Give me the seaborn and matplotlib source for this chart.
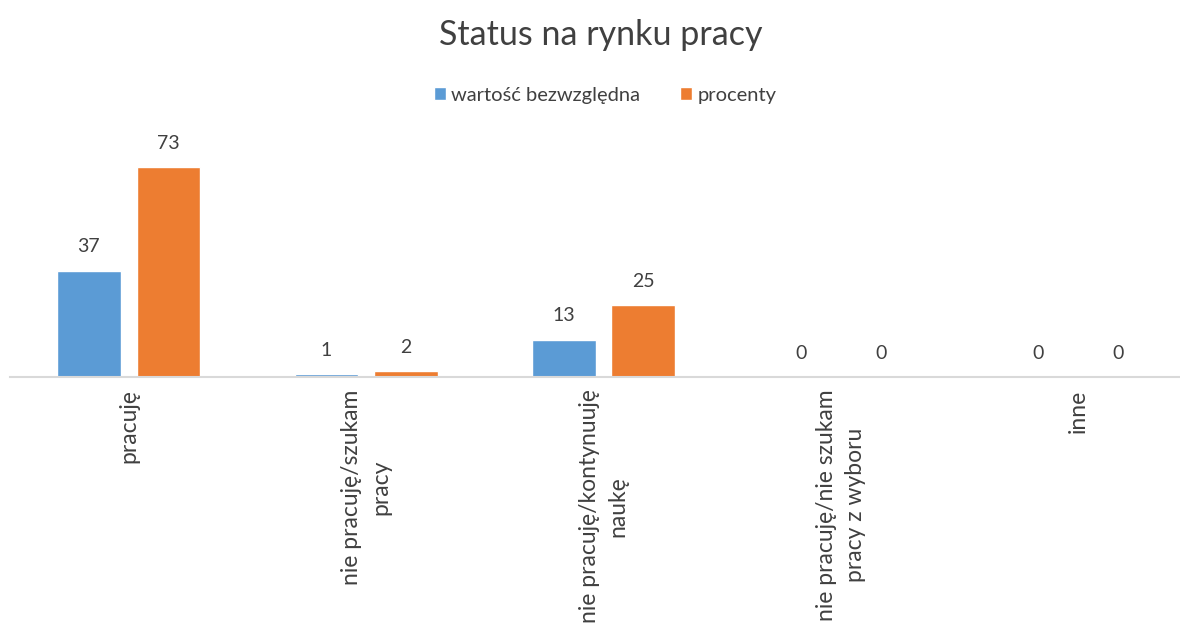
import pandas as pd
import matplotlib.pyplot as plt
import seaborn as sns

# values
categories = ["pracuję", "nie pracuję/szukam\npracy", "nie pracuję/kontynuuję\nnaukę",
              "nie pracuję/nie szukam\npracy z wyboru", "inne"]
absolute = [37, 1, 13, 0, 0]
percent = [73, 2, 25, 0, 0]
series = ["wartość bezwzględna", "procenty"]
colors = ["#5B9BD5", "#ED7D31"]

df = pd.DataFrame({
    "status": categories * 2,
    "value": absolute + percent,
    "series": [series[0]] * len(categories) + [series[1]] * len(categories),
})

sns.set_theme(style="white")
plt.rcParams["font.family"] = ["Lato", "DejaVu Sans"]
text_col = "#404040"

fig = plt.figure(figsize=(11.8, 6.32), dpi=100)
ax = fig.add_axes([10 / 1180, 1 - 377 / 632, 1187 / 1180, (377 - 147) / 632])

sns.barplot(data=df, x="status", y="value", hue="series", palette=colors,
            width=0.67, gap=0.2, ax=ax, saturation=1)

for cont in ax.containers:
    ax.bar_label(cont, padding=11, fontsize=14, color=text_col)

ax.set_ylim(0, 80)
ax.set_xlim(-0.5, 4.5)
ax.set_xlabel("")
ax.set_ylabel("")
ax.set_yticks([])
for s in ["top", "right", "left"]:
    ax.spines[s].set_visible(False)
ax.spines["bottom"].set_color("#D9D9D9")
ax.spines["bottom"].set_linewidth(1.5)
ax.tick_params(axis="x", length=0, pad=9, labelsize=16.5, labelcolor=text_col)
plt.setp(ax.get_xticklabels(), rotation=90, linespacing=1.45)

leg = ax.legend(loc="center", bbox_to_anchor=(605 / 1180, 1 - 95 / 632),
                bbox_transform=fig.transFigure, ncol=2, frameon=False,
                fontsize=14.5, handlelength=0.6, handleheight=0.6,
                handletextpad=0.25, columnspacing=2.0, labelcolor=text_col)

fig.text(601 / 1180, 1 - 35 / 632, "Status na rynku pracy", ha="center", va="center",
         fontsize=24.5, color=text_col)

fig.savefig("out.png", dpi=100)
